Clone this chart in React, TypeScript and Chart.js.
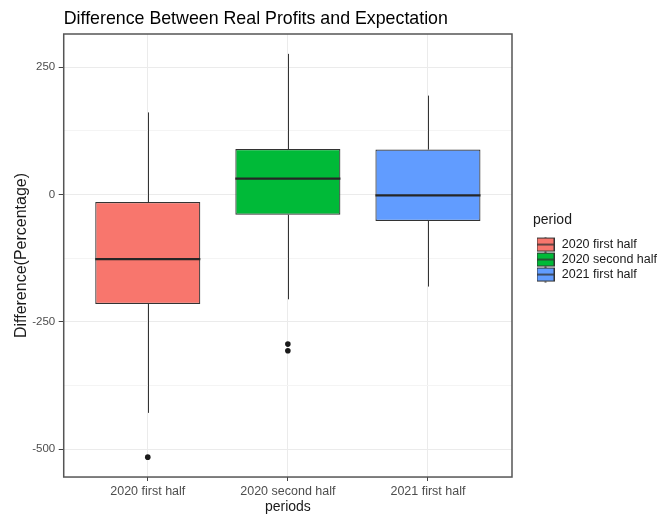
import React, { useEffect, useRef } from 'react';
import { Chart, registerables } from 'chart.js';

Chart.register(...registerables);

// ---- data ----
const categories = ['2020 first half', '2020 second half', '2021 first half'];
const lowerWhisker = [-429, -206, -181];
const lowerQuartile = [-215, -40, -52];
const medians = [-127, 31, -2];
const upperQuartile = [-15, 89, 88];
const upperWhisker = [161, 276, 194];
const outlierGroups = [1, 2, 2];
const outlierValues = [-516, -294, -307];
const yTickValues = [-500, -375, -250, -125, 0, 125, 250];
const yMajorTicks = [-500, -250, 0, 250];

// ---- styles ----
const boxColors = ['#F8766D', '#00BA38', '#619CFF'];
const FONT = "'Liberation Sans', Arial, sans-serif";
const yMin = -555;
const yMax = 315;
const xMin = 0.4;
const xMax = 3.6;

function makeKey(color: string): HTMLCanvasElement {
  const c = document.createElement('canvas');
  c.width = 18;
  c.height = 16;
  const g = c.getContext('2d') as CanvasRenderingContext2D;
  g.strokeStyle = '#333333';
  g.lineWidth = 1;
  g.beginPath();
  g.moveTo(9, 0);
  g.lineTo(9, 16);
  g.stroke();
  g.fillStyle = color;
  g.fillRect(0.5, 1.5, 17, 13);
  g.strokeRect(0.5, 1.5, 17, 13);
  g.lineWidth = 1.5;
  g.beginPath();
  g.moveTo(0.5, 8);
  g.lineTo(17.5, 8);
  g.stroke();
  return c;
}

const boxplotPlugin = {
  id: 'boxplotExtras',
  beforeDatasetsDraw(chart: any) {
    const { ctx, scales } = chart;
    const xs = scales.x;
    const ys = scales.y;
    ctx.save();
    ctx.strokeStyle = '#333333';
    ctx.lineWidth = 1;
    categories.forEach((_, i) => {
      const x = Math.round(xs.getPixelForValue(i + 1)) + 0.5;
      ctx.beginPath();
      ctx.moveTo(x, ys.getPixelForValue(upperWhisker[i]));
      ctx.lineTo(x, ys.getPixelForValue(upperQuartile[i]));
      ctx.moveTo(x, ys.getPixelForValue(lowerQuartile[i]));
      ctx.lineTo(x, ys.getPixelForValue(lowerWhisker[i]));
      ctx.stroke();
    });
    ctx.restore();
  },
  afterDatasetsDraw(chart: any) {
    const { ctx, scales } = chart;
    const ys = scales.y;
    const meta = chart.getDatasetMeta(0);
    ctx.save();
    ctx.strokeStyle = '#262626';
    ctx.lineWidth = 2.2;
    meta.data.forEach((el: any, i: number) => {
      const y = ys.getPixelForValue(medians[i]);
      ctx.beginPath();
      ctx.moveTo(el.x - el.width / 2, y);
      ctx.lineTo(el.x + el.width / 2, y);
      ctx.stroke();
    });
    ctx.restore();
  },
  afterDraw(chart: any) {
    const { ctx, chartArea } = chart;
    ctx.save();
    ctx.strokeStyle = '#555555';
    ctx.lineWidth = 1.5;
    ctx.strokeRect(chartArea.left, chartArea.top, chartArea.right - chartArea.left, chartArea.bottom - chartArea.top);
    ctx.fillStyle = '#000000';
    ctx.font = `17.8px ${FONT}`;
    ctx.textAlign = 'left';
    ctx.textBaseline = 'alphabetic';
    ctx.fillText('Difference Between Real Profits and Expectation', chartArea.left, 23.5);
    ctx.restore();
  },
};

export default function App() {
  const ref = useRef<HTMLCanvasElement | null>(null);

  useEffect(() => {
    document.body.style.margin = '0';
    const canvas = ref.current;
    if (!canvas) return;
    Chart.defaults.font.family = FONT;
    const keys = boxColors.map(makeKey);

    const chart = new Chart(canvas, {
      type: 'bar',
      data: {
        datasets: [
          {
            type: 'bar',
            label: 'boxes',
            data: categories.map((_, i) => ({ x: i + 1, y: [lowerQuartile[i], upperQuartile[i]] })) as any,
            backgroundColor: boxColors,
            borderColor: '#333333',
            borderWidth: 1.2,
            borderSkipped: false,
            categoryPercentage: 1,
            barPercentage: 0.75,
            grouped: false,
          } as any,
          {
            type: 'scatter',
            label: 'outliers',
            data: outlierGroups.map((g, i) => ({ x: g, y: outlierValues[i] })),
            pointRadius: 2.8,
            pointBackgroundColor: '#1a1a1a',
            pointBorderWidth: 0,
          } as any,
        ],
      },
      options: {
        responsive: false,
        animation: false,
        events: [],
        layout: { padding: { top: 34, left: 0, right: 0, bottom: 0 } },
        scales: {
          x: {
            type: 'linear',
            min: xMin,
            max: xMax,
            offset: false,
            afterBuildTicks: (s: any) => {
              s.ticks = categories.map((_, i) => ({ value: i + 1 }));
            },
            ticks: {
              callback: (v: any) => categories[Math.round(Number(v)) - 1] ?? '',
              color: '#4d4d4d',
              font: { size: 12.5, lineHeight: 1.07 },
              padding: 4,
              autoSkip: false,
              maxRotation: 0,
              minRotation: 0,
            },
            grid: { color: '#ebebeb', lineWidth: 1, tickLength: 4, tickColor: '#444444', offset: false },
            border: { display: false },
            title: {
              display: true,
              text: 'periods',
              color: '#1a1a1a',
              font: { size: 14, lineHeight: 0.614 },
              padding: { top: 0, bottom: 4 },
            },
          } as any,
          y: {
            type: 'linear',
            min: yMin,
            max: yMax,
            afterBuildTicks: (s: any) => {
              s.ticks = yTickValues.map((v) => ({ value: v }));
            },
            ticks: {
              callback: (v: any) => (yMajorTicks.includes(Number(v)) ? String(v) : ''),
              color: '#4d4d4d',
              font: { size: 11.5 },
              padding: 3.5,
            },
            grid: {
              color: (c: any) => (yMajorTicks.includes(c.tick?.value) ? '#ebebeb' : '#f4f4f4'),
              lineWidth: 1,
              tickLength: 5,
              tickColor: (c: any) => (yMajorTicks.includes(c.tick?.value) ? '#444444' : 'rgba(0,0,0,0)'),
            },
            border: { display: false },
            title: {
              display: true,
              text: 'Difference(Percentage)',
              color: '#1a1a1a',
              font: { size: 16, lineHeight: 0.95 },
              padding: { top: 13.5, bottom: 0 },
            },
          } as any,
          gap: {
            type: 'linear',
            axis: 'y',
            position: 'right',
            display: true,
            grid: { display: false },
            ticks: { display: false },
            border: { display: false },
            afterFit: (s: any) => {
              s.width = 21;
            },
          } as any,
        },
        plugins: {
          tooltip: { enabled: false },
          title: { display: false },
          legend: {
            display: true,
            position: 'right',
            align: 'start',
            fullSize: false,
            maxWidth: 124,
            title: {
              display: true,
              text: 'period',
              position: 'start',
              color: '#1a1a1a',
              font: { size: 14 },
              padding: { top: 179.5, bottom: 5.5 },
            },
            labels: {
              usePointStyle: true,
              pointStyleWidth: 20,
              padding: 2.5,
              color: '#1a1a1a',
              font: { size: 12.5 },
              generateLabels: () =>
                categories.map((name, i) => ({
                  text: name,
                  pointStyle: keys[i],
                  fillStyle: boxColors[i],
                  strokeStyle: '#333333',
                  lineWidth: 0,
                  hidden: false,
                  datasetIndex: 0,
                  index: i,
                })) as any,
            },
          } as any,
        },
      },
      plugins: [boxplotPlugin],
    });

    return () => chart.destroy();
  }, []);

  return (
    <div style={{ width: 657, height: 515 }}>
      <canvas ref={ref} width={657} height={515} style={{ display: 'block' }} />
    </div>
  );
}
